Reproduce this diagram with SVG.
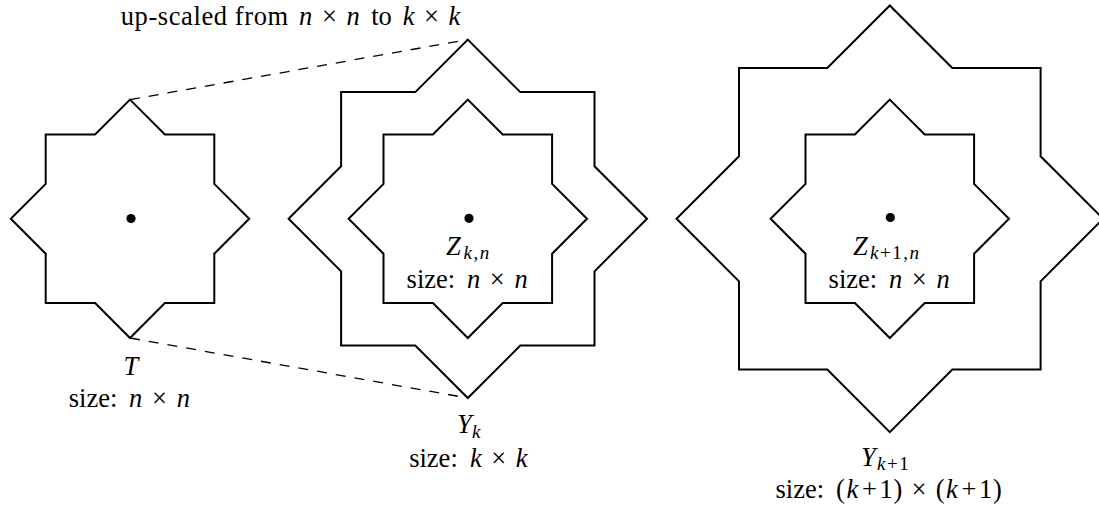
<svg xmlns="http://www.w3.org/2000/svg" width="1099" height="510" viewBox="0 0 1099 510" font-family="'Liberation Serif', 'DejaVu Serif', serif">
<style>
.star{fill:none;stroke:#000;stroke-width:2;stroke-linejoin:miter}
.dash{fill:none;stroke:#000;stroke-width:1.3;stroke-dasharray:10 9}
.dot{fill:#000}
text{font-family:'Liberation Serif','DejaVu Serif',serif;font-size:26.5px;fill:#000}
.i{font-style:italic}
.sub{font-size:19px;letter-spacing:1.5px}
</style>
<rect width="1099" height="510" fill="#fff"/>
<g id="connectors">
<line class="dash" x1="130" y1="99.6" x2="467.8" y2="39.6"/>
<line class="dash" x1="130" y1="338" x2="467.8" y2="398"/>
</g>
<g id="title">
<text><tspan x="120.7" y="25" style="letter-spacing:0.6px">up-scaled from</tspan><tspan class="i" x="298.9">n</tspan><tspan x="322">×</tspan><tspan class="i" x="346.6">n</tspan><tspan x="371.2">to</tspan><tspan class="i" x="402.7">k</tspan><tspan x="424.1">×</tspan><tspan class="i" x="448.4">k</tspan></text>
</g>
<g id="T">
<path class="star" d="M130,99.6 L164.9,134.5 L214.3,134.5 L214.3,183.9 L249.2,218.8 L214.3,253.7 L214.3,303.1 L164.9,303.1 L130,338 L95.1,303.1 L45.7,303.1 L45.7,253.7 L10.8,218.8 L45.7,183.9 L45.7,134.5 L95.1,134.5 Z"/>
<circle class="dot" cx="131" cy="218.5" r="4.6"/>
<text class="i" x="123.5" y="375">T</text>
<text><tspan x="68.8" y="407">size:</tspan><tspan class="i" x="129.1">n</tspan><tspan x="152">×</tspan><tspan class="i" x="176.7">n</tspan></text>
</g>
<g id="Yk">
<path class="star" d="M467.8,39.6 L520.3,92.1 L594.5,92.1 L594.5,166.3 L647,218.8 L594.5,271.3 L594.5,345.5 L520.3,345.5 L467.8,398 L415.3,345.5 L341.1,345.5 L341.1,271.3 L288.6,218.8 L341.1,166.3 L341.1,92.1 L415.3,92.1 Z"/>
<text><tspan class="i" x="457" y="433">Y</tspan><tspan class="sub i" x="472" dy="5">k</tspan></text>
<text><tspan x="409.2" y="467">size:</tspan><tspan class="i" x="470">k</tspan><tspan x="491.3">×</tspan><tspan class="i" x="515.7">k</tspan></text>
</g>
<g id="Zkn">
<path class="star" d="M467.8,99.6 L502.7,134.5 L552.1,134.5 L552.1,183.9 L587,218.8 L552.1,253.7 L552.1,303.1 L502.7,303.1 L467.8,338 L432.9,303.1 L383.5,303.1 L383.5,253.7 L348.6,218.8 L383.5,183.9 L383.5,134.5 L432.9,134.5 Z"/>
<circle class="dot" cx="469" cy="218.3" r="4.6"/>
<text><tspan class="i" x="446" y="255">Z</tspan><tspan class="sub" x="463.5" dy="4"><tspan class="i">k</tspan>,<tspan class="i">n</tspan></tspan></text>
<text><tspan x="406.6" y="288">size:</tspan><tspan class="i" x="466.9">n</tspan><tspan x="489.8">×</tspan><tspan class="i" x="514.5">n</tspan></text>
</g>
<g id="Yk1">
<path class="star" d="M889.8,5.5 L952.3,68 L1040.6,68 L1040.6,156.3 L1103.1,218.8 L1040.6,281.3 L1040.6,369.6 L952.3,369.6 L889.8,432.1 L827.3,369.6 L739,369.6 L739,281.3 L676.5,218.8 L739,156.3 L739,68 L827.3,68 Z"/>
<text><tspan class="i" x="861" y="466">Y</tspan><tspan class="sub" x="877" dy="4"><tspan class="i">k</tspan>+1</tspan></text>
<text><tspan x="775.5" y="498">size:</tspan><tspan x="836.1">(</tspan><tspan class="i" x="846.5">k</tspan><tspan x="862">+</tspan><tspan x="879.6">1</tspan><tspan x="893.45">)</tspan><tspan x="911.5">×</tspan><tspan x="935.65">(</tspan><tspan class="i" x="946.1">k</tspan><tspan x="961.55">+</tspan><tspan x="979.1">1</tspan><tspan x="993">)</tspan></text>
</g>
<g id="Zk1n">
<path class="star" d="M889.8,99.6 L924.7,134.5 L974.1,134.5 L974.1,183.9 L1009,218.8 L974.1,253.7 L974.1,303.1 L924.7,303.1 L889.8,338 L854.9,303.1 L805.5,303.1 L805.5,253.7 L770.6,218.8 L805.5,183.9 L805.5,134.5 L854.9,134.5 Z"/>
<circle class="dot" cx="890.3" cy="217.5" r="4.6"/>
<text><tspan class="i" x="853" y="255">Z</tspan><tspan class="sub" x="870" dy="4"><tspan class="i">k</tspan>+1,<tspan class="i">n</tspan></tspan></text>
<text><tspan x="828.6" y="288">size:</tspan><tspan class="i" x="888.9">n</tspan><tspan x="911.8">×</tspan><tspan class="i" x="936.5">n</tspan></text>
</g>
</svg>
